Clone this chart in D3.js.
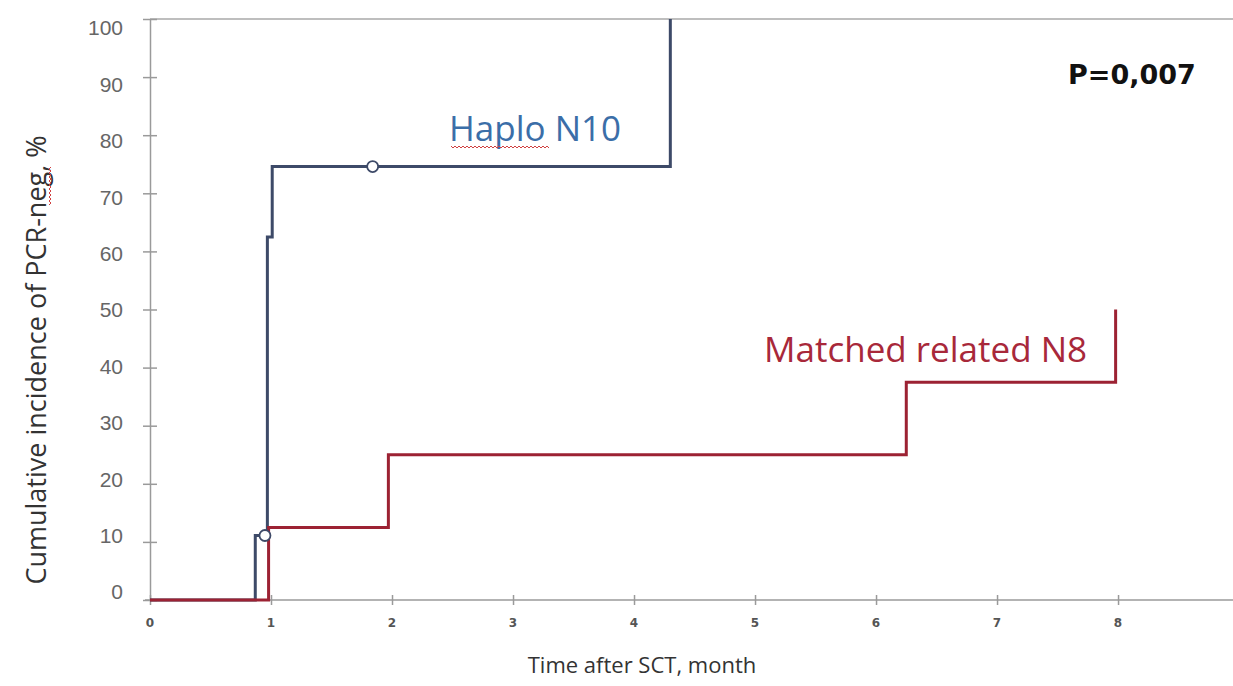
<!DOCTYPE html>
<html>
  <head>
    <meta charset="utf-8">
    <title>Cumulative incidence of PCR-neg</title>
    <style>
      body { margin: 0; background: #fff; }
      svg { display: block; }
      .axis path, .axis line { stroke: #9a9a9a; stroke-width: 1.5px; }
      .ylab { font-family: "Liberation Sans", Arial, sans-serif; font-size: 21px; fill: #666; }
      .xlab { font-family: "DejaVu Sans", sans-serif; font-size: 12px; font-weight: bold; fill: #555; }
      .title { font-family: "Open Sans", sans-serif; fill: #333; }
    </style>
  </head>
  <body>
    <div id="chart"></div>
    <script src="https://d3js.org/d3.v7.min.js"></script>
    <script>
    var width = 1233,
        height = 686

    // step curves: time (months) and cumulative incidence (%)
    var haploTime = [0, 0.87, 0.97, 1.01, 4.3]
    var haploValue = [0, 11.1, 62.5, 74.6, 100]
    var haploCensorTime = [0.95, 1.84]
    var haploCensorValue = [11.1, 74.6]

    var matchedTime = [0, 0.98, 1.97, 6.25, 7.98]
    var matchedValue = [0, 12.5, 25, 37.5, 50]
    var matchedEnd = 7.98

    var yTicks = [0, 10, 20, 30, 40, 50, 60, 70, 80, 90, 100]
    var xTicks = [0, 1, 2, 3, 4, 5, 6, 7, 8]

    var x = d3.scaleLinear().domain([0, 8.95]).range([150, 1233])
    var y = d3.scaleLinear().domain([0, 100]).range([600, 19])
    // the tick numbers in the picture sit on a slightly tighter scale
    var yLabel = d3.scaleLinear().domain([0, 100]).range([592, 28])

    var svg = d3.select('#chart').append('svg')
        .attr('width', width)
        .attr('height', height)

    // top frame line
    svg.append('line')
        .attr('x1', x(0)).attr('x2', width)
        .attr('y1', y(100)).attr('y2', y(100))
        .attr('stroke', '#a8a8a8').attr('stroke-width', 1.5)

    var yAxis = svg.append('g').attr('class', 'axis')
        .attr('transform', 'translate(' + x(0) + ',0)')
        .call(d3.axisLeft(y).tickValues(yTicks).tickSize(7).tickSizeOuter(0).tickFormat(''))
    yAxis.selectAll('.tick line').attr('x2', 7).attr('x1', -7)

    svg.selectAll('.ylab').data(yTicks).enter()
      .append('text')
        .attr('class', 'ylab')
        .attr('x', 123)
        .attr('y', function(d) { return yLabel(d) })
        .attr('dy', '0.35em')
        .attr('text-anchor', 'end')
        .text(function(d) { return d })

    var xAxis = svg.append('g').attr('class', 'axis')
        .attr('transform', 'translate(0,' + y(0) + ')')
        .call(d3.axisBottom(x).tickValues(xTicks).tickSize(4).tickSizeOuter(0).tickFormat(''))
    xAxis.select('.domain').attr('d', 'M145,0H' + width)
    xAxis.selectAll('.tick line').attr('y1', -5).attr('y2', 5)

    svg.selectAll('.xlab').data(xTicks).enter()
      .append('text')
        .attr('class', 'xlab')
        .attr('x', function(d) { return x(d) })
        .attr('y', 627)
        .attr('text-anchor', 'middle')
        .text(function(d) { return d })

    function stepPoints(times, values, end) {
      var pts = times.map(function(t, i) { return [t, values[i]] })
      if (end !== undefined) pts.push([end, values[values.length - 1]])
      return pts
    }

    var line = d3.line()
        .x(function(d) { return x(d[0]) })
        .y(function(d) { return y(d[1]) })
        .curve(d3.curveStepAfter)

    // haplo curve ends going up to 100 at the top frame
    svg.append('path')
        .datum(stepPoints(haploTime, haploValue))
        .attr('d', line)
        .attr('fill', 'none')
        .attr('stroke', '#3d4a68')
        .attr('stroke-width', 3)

    svg.append('path')
        .datum(stepPoints(matchedTime, matchedValue, matchedEnd))
        .attr('d', line)
        .attr('fill', 'none')
        .attr('stroke', '#9c2233')
        .attr('stroke-width', 3)

    svg.selectAll('.censor').data(haploCensorTime).enter()
      .append('circle')
        .attr('class', 'censor')
        .attr('cx', function(d) { return x(d) })
        .attr('cy', function(d, i) { return y(haploCensorValue[i]) })
        .attr('r', 5.5)
        .attr('fill', '#fff')
        .attr('stroke', '#3d4a68')
        .attr('stroke-width', 1.8)

    // labels
    svg.append('text')
        .attr('x', 449).attr('y', 141)
        .attr('font-family', 'Open Sans, sans-serif')
        .attr('font-size', 35)
        .attr('fill', '#3b6ea8')
        .text('Haplo N10')

    function squiggle(x0, x1, yy) {
      var d = 'M' + x0 + ',' + yy
      for (var xx = x0, k = 0; xx < x1; xx += 2, k++) {
        d += 'L' + (xx + 2) + ',' + (yy + (k % 2 ? 0 : 2))
      }
      return d
    }

    svg.append('path')
        .attr('d', squiggle(451, 548, 146))
        .attr('fill', 'none')
        .attr('stroke', '#d04040')
        .attr('stroke-width', 1)

    svg.append('text')
        .attr('x', 764).attr('y', 362)
        .attr('font-family', 'Open Sans, sans-serif')
        .attr('font-size', 35)
        .attr('fill', '#a8283a')
        .text('Matched related N8')

    svg.append('text')
        .attr('x', 1068).attr('y', 84)
        .attr('font-family', 'DejaVu Sans, sans-serif')
        .attr('font-weight', 'bold')
        .attr('font-size', 27)
        .attr('fill', '#111')
        .text('P=0,007')

    var yt = svg.append('g')
        .attr('transform', 'translate(46,360) rotate(-90)')
    yt.append('text')
        .attr('class', 'title')
        .attr('text-anchor', 'middle')
        .attr('font-size', 27)
        .text('Cumulative incidence of PCR-neg, %')
    yt.append('path')
        .attr('d', squiggle(155, 192, 3))
        .attr('fill', 'none')
        .attr('stroke', '#d04040')
        .attr('stroke-width', 1)

    svg.append('text')
        .attr('class', 'title')
        .attr('x', 642).attr('y', 673)
        .attr('text-anchor', 'middle')
        .attr('font-size', 22)
        .text('Time after SCT, month')
    </script>
  </body>
</html>
